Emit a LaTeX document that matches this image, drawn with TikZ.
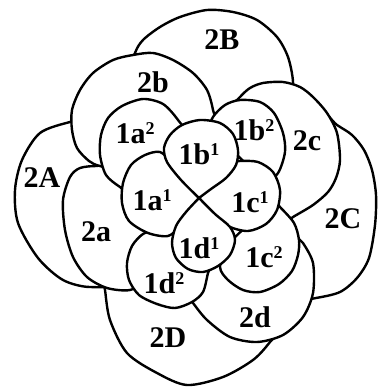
\documentclass[tikz,border=0pt]{standalone}
\usepackage{fontspec}
\setmainfont{Liberation Serif}
\newcommand\upsc[1]{\raisebox{9.5pt}{\fontsize{18}{18}\selectfont #1}}
\begin{document}
\begin{tikzpicture}[x=1pt,y=-1pt,
  cell/.style={draw=black, fill=white, line width=2.4pt, line join=round},
  lab/.style={font=\fontsize{30}{30}\selectfont\bfseries, inner sep=0pt}]
\useasboundingbox (0,0) rectangle (378,388);
\fill[white] (0,0) rectangle (378,388);
% ---- outer layer
\draw[cell] plot[smooth cycle] coordinates {(135,53) (143,40) (160,27) (180,17) (207,10) (233,12) (257,20) (277,37) (288,57) (293,82) (290,105) (250,125) (200,112) (128,80)};
\draw[cell] plot[smooth cycle] coordinates {(70,122) (40,133) (22,160) (15,190) (18,223) (38,258) (63,280) (90,287) (115,280) (112,220) (95,118)};
\draw[cell] plot[smooth cycle] coordinates {(337,125) (352,135) (364,150) (372,170) (376,195) (375,225) (369,258) (357,278) (340,292) (316,298) (295,300) (290,280) (285,235) (300,180) (315,110)};
\draw[cell] plot[smooth cycle] coordinates {(105,290) (110,320) (127,353) (157,373) (187,385) (223,377) (253,360) (270,342) (285,320) (240,300) (190,298) (140,288) (103,275)};
% ---- second layer
\draw[cell] plot[smooth cycle] coordinates {(97,166) (80,168) (70,177) (63,200) (65,230) (73,257) (87,277) (107,288) (130,290) (145,280) (165,250) (160,215) (112,168)};
\draw[cell] plot[smooth cycle] coordinates {(213,110) (207,90) (193,73) (173,60) (153,53) (133,55) (113,60) (93,73) (80,90) (72,110) (72,130) (77,148) (89,161) (100,166) (125,170) (165,140) (215,130)};
\draw[cell] plot[smooth cycle] coordinates {(240,97) (250,88) (263,83) (283,82) (300,87) (313,97) (327,113) (337,133) (340,160) (336,178) (328,192) (313,205) (293,217) (275,228) (258,165) (245,125) (228,112)};
\draw[cell] plot[smooth cycle] coordinates {(193,303) (207,320) (230,337) (257,342) (283,335) (303,317) (313,293) (313,263) (303,243) (297,237) (285,225) (240,258) (215,262) (200,275) (185,292)};
% ---- third layer
\draw[cell] plot[smooth cycle] coordinates {(120,187) (106,175) (100,155) (101,135) (108,118) (122,106) (143,99) (163,104) (178,120) (185,135) (165,165) (135,195)};
\draw[cell] plot[smooth cycle] coordinates {(213,117) (225,105) (240,100) (260,102) (274,113) (283,133) (285,152) (278,173) (265,180) (232,150) (212,128)};
\draw[cell] plot[smooth cycle] coordinates {(220,267) (228,280) (243,290) (260,292) (279,284) (292,271) (298,255) (299,240) (294,223) (280,207) (268,195) (250,222) (228,245)};
\draw[cell] plot[smooth cycle] coordinates {(208,273) (212,258) (185,240) (172,232) (157,230) (143,234) (132,246) (127,263) (129,280) (139,295) (157,304) (175,308) (192,302) (203,292)};
% ---- inner petals
\coordinate (ctr) at (199,198);
\draw[cell] plot[smooth] coordinates {(ctr) (185,182) (172,163) (160,152) (145,155) (131,165) (123,183) (122,203) (129,221) (148,233) (168,236) (180,226) (190,212) (ctr)} -- cycle;
\draw[cell] plot[smooth] coordinates {(ctr) (212,212) (228,226) (248,231) (266,224) (277,210) (280,190) (273,172) (258,162) (240,161) (233,163) (222,175) (208,188) (ctr)} -- cycle;
\draw[cell] plot[smooth] coordinates {(ctr) (181,180) (167,162) (164,148) (170,135) (182,125) (200,120) (220,123) (233,134) (238,150) (236,165) (226,178) (211,189) (ctr)} -- cycle;
\draw[cell] plot[smooth] coordinates {(ctr) (186,212) (176,226) (172,243) (176,258) (188,269) (203,272) (218,266) (230,255) (235,240) (230,227) (215,214) (ctr)} -- cycle;
\fill (ctr) circle (2.2);
% ---- labels
\node[lab] (l2B) at (222,40) {2B};
\node[lab] (l2b) at (153,82) {2b};
\node[lab] (l1a2) at (135,133) {1a\upsc{2}};
\node[lab] (l1b1) at (199,154) {1b\upsc{1}};
\node[lab] (l1b2) at (254,130) {1b\upsc{2}};
\node[lab] (l2c) at (307,141) {2c};
\node[lab] (l2A) at (42,178) {2A};
\node[lab] (l1a1) at (152,200) {1a\upsc{1}};
\node[lab] (l1c1) at (250,202) {1c\upsc{1}};
\node[lab] (l2a) at (96,232) {2a};
\node[lab] (l2C) at (343,219) {2C};
\node[lab] (l1d1) at (199,248) {1d\upsc{1}};
\node[lab] (l1c2) at (264,257) {1c\upsc{2}};
\node[lab] (l1d2) at (164,283) {1d\upsc{2}};
\node[lab] (l2d) at (255,317) {2d};
\node[lab] (l2D) at (168,338) {2D};
\end{tikzpicture}
\end{document}
